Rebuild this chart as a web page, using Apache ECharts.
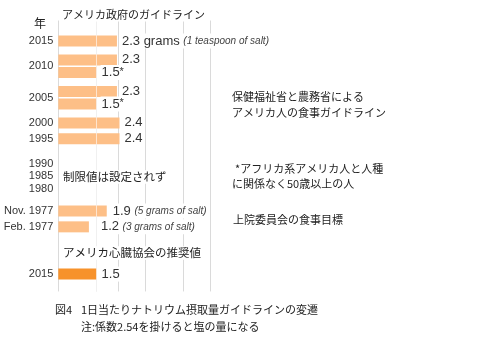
<!DOCTYPE html>
<html><head><meta charset="utf-8">
<script src="https://cdn.jsdelivr.net/npm/echarts/dist/echarts.min.js"></script>
<style>html,body{margin:0;padding:0;background:#fff}#c{width:480px;height:360px}</style>
</head><body><div id="c"></div>
<script>
// ---- data ----
const govYears = ['2015', '2010', '2010', '2005', '2005', '2000', '1995'];
const govValues = [2.3, 2.3, 1.5, 2.3, 1.5, 2.4, 2.4];
const govUnits = ['grams', '', '', '', '', '', ''];
const govMarks = ['', '', '*', '', '*', '', ''];
const govNotes = ['(1 teaspoon of salt)', '', '', '', '', '', ''];
const noLimitYears = ['1990', '1985', '1980'];
const senateYears = ['Nov. 1977', 'Feb. 1977'];
const senateValues = [1.9, 1.2];
const senateNotes = ['(5 grams of salt)', '(3 grams of salt)'];
const ahaYears = ['2015'];
const ahaValues = [1.5];
const gridValues = [0, 1.5, 2.35, 3.4, 4.9, 5.95];

// ---- layout (row slots) ----
const SLOT = 3.15, PAD_TOP = 6, PAD_BOTTOM = 5;
const govRows = [0, 6, 10, 16, 20, 26, 31];
const noLimitRows = [39, 43, 47];
const senateRows = [54, 59];
const senateGaps = [5, 11];
const ahaRows = [74];
const N = PAD_TOP + 75 + PAD_BOTTOM;

const cats = [], yLabels = [], lightData = [], darkData = [], valueLabels = [];
for (let i = 0; i < N; i++) { cats.push('r' + i); yLabels.push(''); lightData.push('-'); darkData.push('-'); valueLabels.push(''); }

const yearRows = {};
govYears.forEach((y, i) => { (yearRows[y] = yearRows[y] || []).push(govRows[i]); });
Object.keys(yearRows).forEach(y => {
  const r = yearRows[y];
  const m = Math.round(r.reduce((a, b) => a + b, 0) / r.length);
  yLabels[PAD_TOP + m] = y;
});
govValues.forEach((v, i) => {
  const k = PAD_TOP + govRows[i];
  lightData[k] = v;
  let s = '{v|' + v.toFixed(1) + (govUnits[i] ? ' ' + govUnits[i] + ' ' : '') + '}';
  if (govMarks[i]) s += '{s|' + govMarks[i] + '}';
  if (govNotes[i]) s += '{n|' + govNotes[i] + '}';
  valueLabels[k] = s;
});
noLimitYears.forEach((y, i) => { yLabels[PAD_TOP + noLimitRows[i]] = y; });
senateValues.forEach((v, i) => {
  const k = PAD_TOP + senateRows[i];
  yLabels[k] = senateYears[i];
  lightData[k] = { value: v, label: { distance: senateGaps[i] } };
  valueLabels[k] = '{v|' + v.toFixed(1) + ' }{n|' + senateNotes[i] + '}';
});
ahaValues.forEach((v, i) => {
  const k = PAD_TOP + ahaRows[i];
  yLabels[k] = ahaYears[i];
  darkData[k] = v;
  valueLabels[k] = '{v|' + v.toFixed(1) + '}';
});

const rich = {
  v: { fontFamily: 'Liberation Sans', fontSize: 13, color: '#333' },
  s: { fontFamily: 'Liberation Sans', fontSize: 11, color: '#333', verticalAlign: 'top' },
  n: { fontFamily: 'Liberation Sans', fontSize: 10, fontStyle: 'italic', color: '#444' }
};
const labelCfg = {
  show: true, position: 'right', distance: 4,
  formatter: p => valueLabels[p.dataIndex],
  backgroundColor: '#fff', padding: [1, 1], rich
};

const jp = '"Noto Sans CJK JP"';
function txt(text, x, y, size) {
  return { type: 'text', x, y, z: 10, style: {
    text, font: (size || 11) + 'px ' + jp, fill: '#222',
    align: 'left', verticalAlign: 'middle', backgroundColor: '#fff', padding: [1, 1]
  } };
}

const chart = echarts.init(document.getElementById('c'), null, { renderer: 'canvas' });
chart.setOption({
  animation: false,
  backgroundColor: '#fff',
  grid: { left: 58.3, width: 25.5 * 6, top: 41 - (PAD_TOP + 0.5) * SLOT, height: N * SLOT },
  xAxis: { type: 'value', min: 0, max: 6, show: false, splitLine: { show: false } },
  yAxis: {
    type: 'category', data: cats, inverse: true,
    axisLine: { show: false }, axisTick: { show: false }, splitLine: { show: false },
    axisLabel: {
      interval: 0, margin: 5, fontFamily: 'Liberation Sans', fontSize: 11, color: '#333',
      formatter: (val, idx) => yLabels[idx]
    }
  },
  series: [
    {
      type: 'bar', data: lightData, barWidth: 11, barGap: '-100%', z: 2,
      itemStyle: { color: '#fdbf87' },
      label: labelCfg,
      markLine: {
        silent: true, symbol: ['none', 'none'], z: 1, animation: false,
        label: { show: false },
        lineStyle: { color: '#dadada', width: 1, type: 'solid' },
        emphasis: { disabled: true },
        data: gridValues.map(v => ({ xAxis: v }))
      }
    },
    {
      type: 'bar', data: darkData, barWidth: 11, barGap: '-100%', z: 2,
      itemStyle: { color: '#f7922b' },
      label: labelCfg,
      markLine: {
        silent: true, symbol: ['none', 'none'], z: 3, animation: false,
        label: { show: false },
        lineStyle: { color: 'rgba(255,255,255,0.6)', width: 1, type: 'solid' },
        emphasis: { disabled: true },
        data: [{ xAxis: gridValues[1] }]
      }
    }
  ],
  graphic: [
    txt('年', 33, 23, 12),
    txt('アメリカ政府のガイドライン', 61, 15),
    txt('制限値は設定されず', 62, 177, 11.5),
    txt('アメリカ心臓協会の推奨値', 62, 253, 11.5),
    txt('保健福祉省と農務省による', 231, 97),
    txt('アメリカ人の食事ガイドライン', 231, 113),
    txt('*アフリカ系アメリカ人と人種', 234, 169),
    txt('に関係なく50歳以上の人', 231, 184),
    txt('上院委員会の食事目標', 232, 220),
    txt('図4', 54, 310),
    txt('1日当たりナトリウム摂取量ガイドラインの変遷', 80, 310),
    txt('注:係数2.54を掛けると塩の量になる', 80, 327)
  ]
});
</script></body></html>
